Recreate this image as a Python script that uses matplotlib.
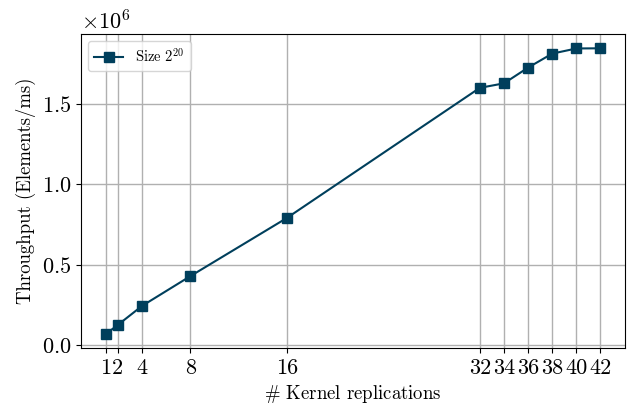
import matplotlib
matplotlib.use("Agg")
import matplotlib.pyplot as plt
from matplotlib.ticker import MultipleLocator

replications = [1, 2, 4, 8, 16, 32, 34, 36, 38, 40, 42]
throughput = [0.068e6, 0.125e6, 0.243e6, 0.428e6, 0.79e6, 1.60e6, 1.628e6, 1.726e6, 1.813e6, 1.845e6, 1.846e6]

plt.rcParams["font.family"] = "serif"
plt.rcParams["font.serif"] = ["cmr10"]
plt.rcParams["mathtext.fontset"] = "cm"
plt.rcParams["axes.formatter.use_mathtext"] = True
plt.rcParams["axes.unicode_minus"] = False


def main():
    fig, ax = plt.subplots(figsize=(6.29, 4.05), dpi=100)
    ax.plot(replications, throughput, color="#003f5c", marker="s", markersize=7,
            linewidth=1.5, label=r"Size $2^{20}$")
    ax.set_xticks(replications)
    ax.set_xticklabels([str(r) for r in replications])
    ax.yaxis.set_major_locator(MultipleLocator(0.5e6))
    ax.tick_params(labelsize=16)
    ax.yaxis.get_offset_text().set_fontsize(16)
    ax.set_xlabel(r"$\#$ Kernel replications", fontsize=13.5)
    ax.set_ylabel("Throughput (Elements/ms)", fontsize=13.5)
    ax.grid(True, color="#b0b0b0", linewidth=1)
    ax.legend(loc="upper left", fontsize=10.5)
    fig.subplots_adjust(left=0.129, right=0.994, top=0.916, bottom=0.14)
    fig.savefig("out.png", dpi=100)


if __name__ == "__main__":
    main()
